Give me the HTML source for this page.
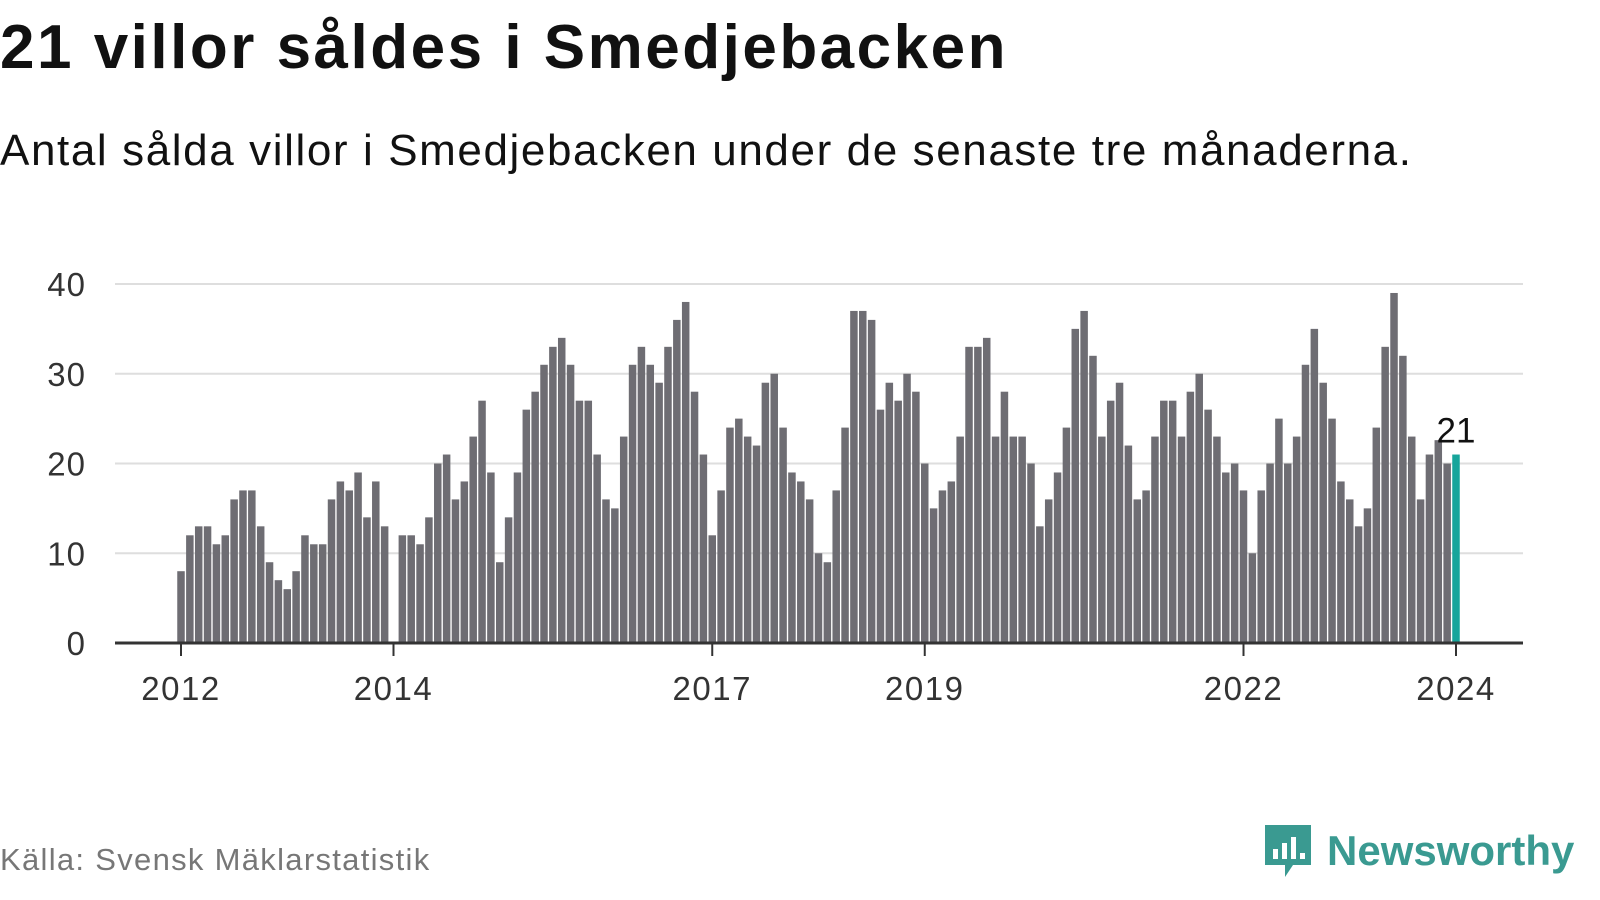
<!DOCTYPE html>
<html><head><meta charset="utf-8">
<style>
body{margin:0;width:1600px;height:900px;background:#fff;font-family:"Liberation Sans",sans-serif;overflow:hidden;position:relative}
#title{position:absolute;left:0;top:12px;font-size:62px;font-weight:bold;color:#111;margin:0;letter-spacing:2.5px}
#sub{position:absolute;left:0;top:126px;font-size:44px;color:#111;letter-spacing:1.6px}
#src{position:absolute;left:0;top:842px;font-size:31px;color:#777;letter-spacing:1.3px}
#logo{position:absolute;left:1263px;top:823px;display:flex;align-items:center}
#logo span{font-size:42px;font-weight:bold;color:#3a9a91;margin-left:14px}
</style></head><body>
<h1 id="title">21 villor såldes i Smedjebacken</h1>
<div id="sub">Antal sålda villor i Smedjebacken under de senaste tre månaderna.</div>
<svg id="chart" width="1600" height="900" style="position:absolute;left:0;top:0"></svg>
<div id="src">Källa: Svensk Mäklarstatistik</div>
<div id="logo">
<svg width="50" height="56"><path d="M2 2h46v40H30l-8 12v-12H2z" fill="#3a9a91"/><rect x="10" y="26" width="5" height="10" fill="#fff"/><rect x="19" y="20" width="5" height="16" fill="#fff"/><rect x="28" y="14" width="5" height="22" fill="#fff"/><rect x="37" y="30" width="5" height="6" fill="#fff"/></svg>
<span>Newsworthy</span></div>
<script>
const values=[8,12,13,13,11,12,16,17,17,13,9,7,
6,8,12,11,11,16,18,17,19,14,18,13,
0,12,12,11,14,20,21,16,18,23,27,19,
9,14,19,26,28,31,33,34,31,27,27,21,
16,15,23,31,33,31,29,33,36,38,28,21,
12,17,24,25,23,22,29,30,24,19,18,16,
10,9,17,24,37,37,36,26,29,27,30,28,
20,15,17,18,23,33,33,34,23,28,23,23,
20,13,16,19,24,35,37,32,23,27,29,22,
16,17,23,27,27,23,28,30,26,23,19,20,
17,10,17,20,25,20,23,31,35,29,25,18,
16,13,15,24,33,39,32,23,16,21,22.6,20,
21];
const yTicks=[0,10,20,30,40];
const xTickYears=[2012,2014,2017,2019,2022,2024];
const startYear=2012;
const svg=document.getElementById('chart');
const NS='http://www.w3.org/2000/svg';
const y=v=>643-v*(643-284)/40;
const x=i=>181+i*(1456-181)/144;
function mk(t,a){const e=document.createElementNS(NS,t);for(const k in a)e.setAttribute(k,a[k]);svg.appendChild(e);return e;}
yTicks.forEach(t=>{
 if(t>0){const l=mk('line',{x1:115,x2:1523,y1:y(t),y2:y(t),stroke:'#dedede','stroke-width':2});
 
 }
 const tx=mk('text',{x:86,y:y(t)+12,'text-anchor':'end','font-size':33,fill:'#333','font-family':'Liberation Sans','letter-spacing':1});
 tx.textContent=t;
 
 
});
values.forEach((v,i)=>{
 const last=i===values.length-1;
 const r=mk('rect',{x:x(i)-3.75,y:y(v),width:7.5,height:643-y(v),fill:last?'#17a59b':'#6e6d73'});
 
 
});
const ax=mk('line',{x1:115,x2:1523,y1:643,y2:643,stroke:'#333','stroke-width':3});


xTickYears.forEach(yr=>{
 const xi=x((yr-startYear)*12);
 const tk=mk('line',{x1:xi,x2:xi,y1:643,y2:656,stroke:'#333','stroke-width':2});
 
 
 const tx=mk('text',{x:xi,y:700,'text-anchor':'middle','font-size':33,fill:'#333','font-family':'Liberation Sans','letter-spacing':1.5});
 tx.textContent=yr;
 
 
});
const li=values.length-1;
const lab=mk('text',{x:x(li),y:y(values[li])-12,'text-anchor':'middle','font-size':35,fill:'#111','font-family':'Liberation Sans'});
lab.textContent=values[li];


</script>
</body></html>
